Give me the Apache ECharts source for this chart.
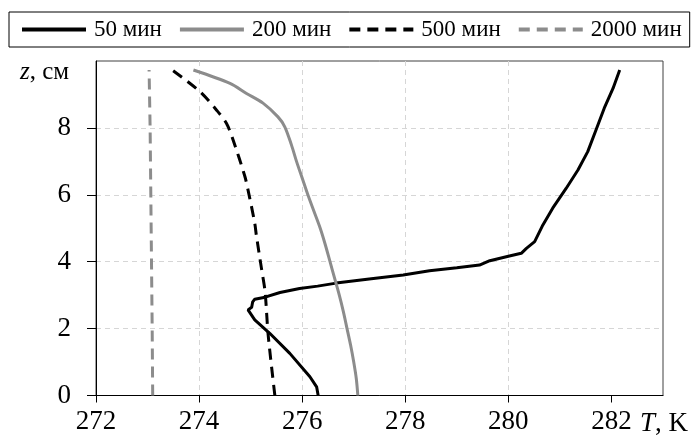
<!DOCTYPE html>
<html><head><meta charset="utf-8">
<script src="https://cdn.jsdelivr.net/npm/echarts@6/dist/echarts.min.js"></script>
<style>html,body{margin:0;padding:0;background:#fff}#c{width:696px;height:443px}</style>
</head><body><div id="c"></div>
<script>
// ---- data ----
const seriesNames = ['50 мин', '200 мин', '500 мин', '2000 мин'];
const xTicks = [272, 274, 276, 278, 280, 282];
const yTicks = [0, 2, 4, 6, 8, 10];

const T50 = [276.31, 276.28, 276.15, 275.76, 275.37, 275.08, 274.95, 275.02, 275.04, 275.08, 275.28, 275.57, 275.95, 276.30, 276.66, 277.30, 277.96, 278.47, 279.00, 279.44, 279.64, 280.02, 280.25, 280.35, 280.51, 280.67, 280.86, 281.12, 281.35, 281.54, 281.70, 281.86, 282.03, 282.16];
const z50 = [0, 0.26, 0.56, 1.26, 1.86, 2.26, 2.56, 2.64, 2.80, 2.88, 2.94, 3.08, 3.20, 3.27, 3.36, 3.48, 3.60, 3.73, 3.82, 3.90, 4.03, 4.17, 4.25, 4.40, 4.60, 5.10, 5.60, 6.19, 6.74, 7.29, 7.94, 8.59, 9.18, 9.73];

const T200 = [277.08, 277.05, 277.00, 276.94, 276.87, 276.80, 276.72, 276.63, 276.54, 276.45, 276.35, 276.23, 276.11, 276.00, 275.89, 275.79, 275.66, 275.53, 275.24, 274.92, 274.60, 273.89];
const z200 = [0, 0.5, 1.0, 1.5, 2.0, 2.5, 3.0, 3.5, 4.0, 4.5, 5.0, 5.5, 6.0, 6.5, 7.0, 7.5, 8.04, 8.33, 8.74, 9.03, 9.33, 9.73];

const T500 = [275.47, 275.34, 275.28, 275.21, 275.11, 275.08, 274.95, 274.89, 274.66, 274.53, 274.34, 274.02, 273.48];
const z500 = [0, 1.81, 3.10, 3.80, 4.80, 5.15, 6.14, 6.54, 7.64, 8.14, 8.53, 9.08, 9.73];

const T2000 = [273.10, 273.09, 273.07, 273.05, 273.03];
const z2000 = [0, 2, 5, 8, 9.73];

// ---- build ----
const zip = (a, b) => a.map((v, i) => [v, b[i]]);
const FONT = '"Liberation Serif", "Times New Roman", serif';
const BLACK = '#000000', GRAY = '#8c8c8c';

function mk(name, T, z, color, dashed, smooth) {
  return {
    name, type: 'line', data: zip(T, z), symbol: 'none', showSymbol: false, smooth: smooth,
    lineStyle: { color, width: 3, type: dashed ? [11, 7] : 'solid' },
    itemStyle: { color }, animation: false, z: 3
  };
}

const chart = echarts.init(document.getElementById('c'), null, { renderer: 'canvas' });
chart.setOption({
  animation: false,
  backgroundColor: '#fff',
  grid: { left: 96, right: 33, top: 61, bottom: 47.5, show: true, borderColor: '#404040', borderWidth: 1, backgroundColor: 'transparent' },
  legend: {
    data: seriesNames, left: 9, top: 12, orient: 'horizontal',
    borderColor: '#000', borderWidth: 1, padding: [6, 8, 6, 11],
    itemWidth: 64, itemHeight: 14, itemGap: 16,
    itemStyle: { opacity: 0 },
    lineStyle: { width: 4 },
    textStyle: { fontFamily: FONT, fontSize: 23, color: '#000', padding: [0, 0, 0, 3] }
  },
  xAxis: {
    type: 'value', min: 272, max: 283, interval: 2,
    axisLine: { show: true, onZero: false, lineStyle: { color: '#000', width: 1 } },
    axisTick: { show: true, inside: false, length: 7, lineStyle: { color: '#000' }, customValues: xTicks },
    axisLabel: { customValues: xTicks, fontFamily: FONT, fontSize: 27, color: '#000', margin: 13 },
    splitLine: { show: true, showMaxLine: false, showMinLine: false, lineStyle: { color: '#d6d6d6', type: [5, 4], width: 1 } }
  },
  yAxis: {
    type: 'value', min: 0, max: 10, interval: 2,
    axisLine: { show: true, onZero: false, lineStyle: { color: '#000', width: 1 } },
    axisTick: { show: true, inside: false, length: 9, lineStyle: { color: '#000' } },
    axisLabel: { showMaxLabel: false, fontFamily: FONT, fontSize: 27, color: '#000', margin: 25,
      formatter: v => (yTicks.includes(v) && v !== 10 ? String(v) : '') },
    splitLine: { show: true, showMaxLine: false, showMinLine: false, lineStyle: { color: '#d6d6d6', type: [5, 4], width: 1 } }
  },
  graphic: [
    { type: 'text', left: 20, top: 60, style: { text: '{i|z}, см', rich: { i: { fontStyle: 'italic', fontFamily: FONT, fontSize: 25 } }, fontFamily: FONT, fontSize: 25, fill: '#000' } },
    { type: 'text', left: 640, top: 410, style: { text: '{i|T}, K', rich: { i: { fontStyle: 'italic', fontFamily: FONT, fontSize: 27 } }, fontFamily: FONT, fontSize: 27, fill: '#000' } }
  ],
  series: [
    mk(seriesNames[0], T50, z50, BLACK, false, false),
    mk(seriesNames[1], T200, z200, GRAY, false, 0.3),
    mk(seriesNames[2], T500, z500, BLACK, true, 0.3),
    mk(seriesNames[3], T2000, z2000, GRAY, true, false)
  ]
});
</script></body></html>
